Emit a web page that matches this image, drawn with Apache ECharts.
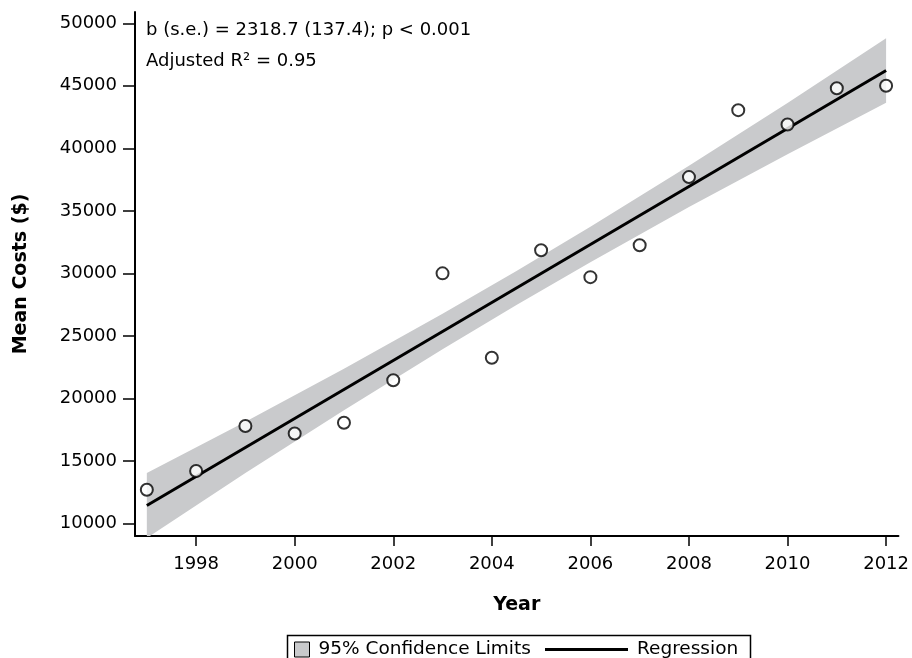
<!DOCTYPE html>
<html>
<head>
<meta charset="utf-8">
<script src="https://cdn.jsdelivr.net/npm/echarts@6/dist/echarts.min.js"></script>
<style>
html,body{margin:0;padding:0;background:#fff;}
#chart{width:912px;height:658px;}
</style>
</head>
<body>
<div id="chart"></div>
<script>
// Observed data
var years = [1997,1998,1999,2000,2001,2002,2003,2004,2005,2006,2007,2008,2009,2010,2011,2012];
var meanCosts = [12700,14200,17800,17200,18050,21450,30000,23250,31850,29700,32250,37700,43050,41900,44800,45000];

// Regression line end points
var regYears = [1997, 2012];
var regValues = [11440, 46220];

// 95% confidence band
var bandYears = [1997, 1999, 2001, 2003, 2004.5, 2006, 2008, 2010, 2012];
var bandLower = [8840, 14030, 19065, 23930, 27470, 30890, 35300, 39530, 43640];
var bandUpper = [14040, 18130, 22365, 26770, 30190, 33730, 38600, 43630, 48800];

// Tick labels
var xTicks = [1998,2000,2002,2004,2006,2008,2010,2012];
var yTicks = [10000,15000,20000,25000,30000,35000,40000,45000,50000];

var FONT = 'DejaVu Sans';
var bandColor = '#c9cacc';

var chart = echarts.init(document.getElementById('chart'), null, {renderer: 'canvas'});

var bandData = bandYears.map(function (y, i) { return [y, bandLower[i], bandUpper[i]]; });
var regData = regYears.map(function (y, i) { return [y, regValues[i]]; });
var pts = years.map(function (y, i) { return [y, meanCosts[i]]; });

function renderBand(params, api) {
  if (params.dataIndex !== 0) return null;
  var upper = [], lower = [];
  for (var i = 0; i < bandData.length; i++) {
    upper.push(api.coord([bandData[i][0], bandData[i][2]]));
    lower.push(api.coord([bandData[i][0], bandData[i][1]]));
  }
  var points = upper.concat(lower.reverse());
  var cs = params.coordSys;
  return {
    type: 'polygon',
    shape: {points: points},
    style: {fill: bandColor, stroke: null},
    clipPath: {type: 'rect', shape: {x: cs.x, y: cs.y, width: cs.width, height: cs.height}},
    silent: true
  };
}

var option = {
  animation: false,
  backgroundColor: '#fff',
  textStyle: {fontFamily: FONT, color: '#000'},
  grid: {left: 135, right: 12, top: 12, bottom: 122, containLabel: false},
  xAxis: {
    type: 'value',
    min: 1996.76,
    max: 2012.25,
    name: 'Year',
    nameLocation: 'middle',
    nameGap: 60,
    nameTextStyle: {fontFamily: FONT, fontSize: 19, fontWeight: 'bold', color: '#000'},
    splitLine: {show: false},
    axisLine: {show: true, onZero: false, lineStyle: {color: '#000', width: 2}},
    axisTick: {show: true, length: 10, customValues: xTicks, lineStyle: {color: '#000', width: 1.5}},
    axisLabel: {customValues: xTicks, margin: 19, fontFamily: FONT, fontSize: 18, color: '#000',
      formatter: function (v) { return String(v); }}
  },
  yAxis: {
    type: 'value',
    min: 9000,
    max: 50900,
    name: 'Mean Costs ($)',
    nameLocation: 'middle',
    nameGap: 104,
    nameTextStyle: {fontFamily: FONT, fontSize: 19, fontWeight: 'bold', color: '#000'},
    splitLine: {show: false},
    axisLine: {show: true, onZero: false, lineStyle: {color: '#000', width: 2}},
    axisTick: {show: true, length: 12, customValues: yTicks, lineStyle: {color: '#000', width: 1.5}},
    axisLabel: {customValues: yTicks, margin: 18, fontFamily: FONT, fontSize: 18, color: '#000',
      formatter: function (v) { return String(v); }}
  },
  legend: [{
    left: 294, top: 640, padding: 0,
    itemWidth: 15, itemHeight: 15,
    textStyle: {fontFamily: FONT, fontSize: 18.5, color: '#000', padding: [0, 0, 0, 4]},
    data: [{name: '95% Confidence Limits', icon: 'rect',
      itemStyle: {color: bandColor, borderColor: '#000', borderWidth: 1}}],
    selectedMode: false
  }, {
    left: 545, top: 640, padding: 0,
    itemWidth: 83, itemHeight: 15,
    textStyle: {fontFamily: FONT, fontSize: 18.5, color: '#000', padding: [0, 0, 0, 4]},
    data: [{name: 'Regression', icon: 'path://M0,0 L83,0 L83,3 L0,3 Z',
      itemStyle: {color: '#000', borderWidth: 0}}],
    selectedMode: false
  }],
  graphic: [{
    type: 'rect', left: 285, top: 633,
    shape: {width: 463, height: 40},
    style: {fill: 'none', stroke: '#000', lineWidth: 1.5}, z: 100
  }, {
    type: 'text', left: 146, top: 21,
    style: {text: 'b (s.e.) = 2318.7 (137.4); p < 0.001', font: '18px "' + FONT + '"', fill: '#000'}
  }, {
    type: 'text', left: 146, top: 52,
    style: {text: 'Adjusted R² = 0.95', font: '18px "' + FONT + '"', fill: '#000'}
  }],
  series: [{
    name: '95% Confidence Limits',
    type: 'custom',
    data: bandData,
    renderItem: renderBand,
    encode: {x: 0, y: [1, 2]},
    itemStyle: {color: bandColor},
    silent: true,
    z: 1
  }, {
    name: 'Regression',
    type: 'line',
    data: regData,
    symbol: 'none',
    lineStyle: {color: '#000', width: 3},
    itemStyle: {color: '#000'},
    z: 3
  }, {
    name: 'Mean Costs',
    type: 'scatter',
    data: pts,
    symbol: 'circle',
    symbolSize: 12,
    itemStyle: {color: '#fff', borderColor: '#000', borderWidth: 2},
    z: 4
  }]
};

chart.setOption(option);
</script>
</body>
</html>
